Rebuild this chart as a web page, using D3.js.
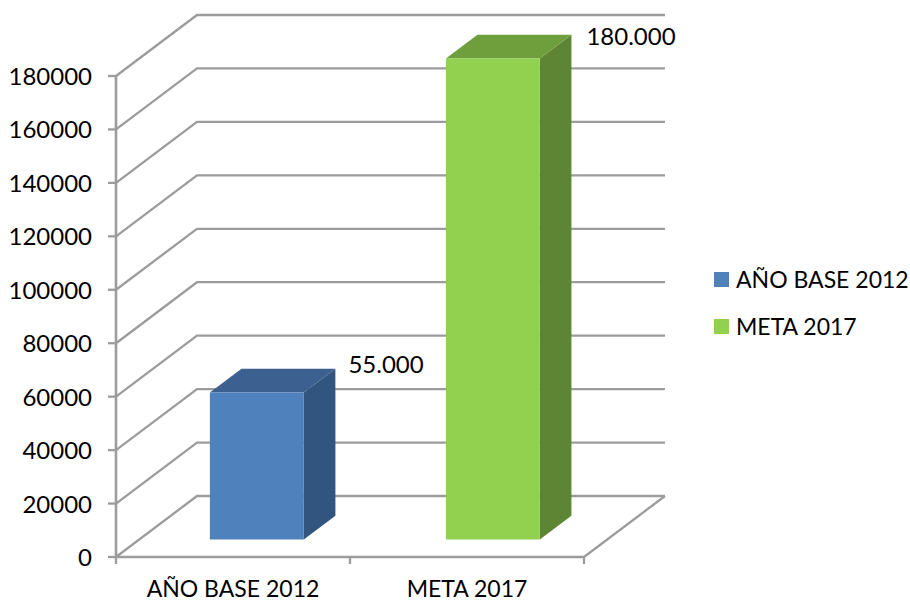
<!DOCTYPE html>
<html><head><meta charset="utf-8">
<script src="https://cdn.jsdelivr.net/npm/d3@7"></script>
<style>html,body{margin:0;background:#fff}text{font-family:Lato,"Open Sans",sans-serif;fill:#000;font-size:23px}.n{font-size:24px}</style>
</head><body><svg id="c" width="910" height="601"></svg>
<script>
const categories=["AÑO BASE 2012","META 2017"];
const values=[55000,180000];
const valueLabels=["55.000","180.000"];
const yTicks=[0,20000,40000,60000,80000,100000,120000,140000,160000,180000];
const frontColors=["#4f81bd","#92d050"];
const topColors=["#3c6090","#6f9f3c"];
const sideColors=["#31557f","#5e8534"];
const svg=d3.select("#c");
const y=d3.scaleLinear().domain([0,180000]).range([557,76]);
const x=d3.scaleBand().domain(categories).range([116,584]);
const bar=d3.scaleBand().domain(categories).range([116,584]).paddingInner(0.602).paddingOuter(0.2925).align(0.68);
const depth=d3.scaleLinear().domain([0,1]).range([0,81]);
const rise=d3.scaleLinear().domain([0,1]).range([0,61]);
const grid="#9c9c9c";
const line=(a,b,c,d,w=2.3)=>svg.append("line").attr("x1",a).attr("y1",b).attr("x2",c).attr("y2",d).attr("stroke",grid).attr("stroke-width",w);
yTicks.forEach(t=>{
  const p=y(t);
  svg.append("polyline").attr("fill","none").attr("stroke",grid).attr("stroke-width",2.3)
    .attr("points",[[116,p],[116+depth(1),p-rise(1)],[584+depth(1),p-rise(1)]].join(" "));
  line(108,p,116,p);
  svg.append("text").attr("class","n").attr("x",92).attr("y",p+9).attr("text-anchor","end").text(t);
});
line(116,y(0),116,y(180000),2.6);
line(116,y(0),584,y(0),2.6);
line(584,y(0),584+depth(1),y(0)-rise(1));
[116,350,584].forEach(v=>line(v,y(0),v,564));
const labelLift=[6,0];
const labelBack=[2,0];
categories.forEach((c,i)=>{
  svg.append("text").attr("x",x(c)+x.bandwidth()/2).attr("y",597).attr("text-anchor","middle").text(c);
  const l=bar(c),r=l+bar.bandwidth(),b=y(0)-rise(0.287),t=b-(y(0)-y(values[i]));
  const dx=depth(0.39),dy=rise(0.39);
  svg.append("polygon").attr("fill",sideColors[i]).attr("points",[[r,b],[r+dx,b-dy],[r+dx,t-dy],[r,t]].join(" "));
  svg.append("polygon").attr("fill",topColors[i]).attr("points",[[l,t],[l+dx,t-dy],[r+dx,t-dy],[r,t]].join(" "));
  svg.append("rect").attr("fill",frontColors[i]).attr("x",l).attr("y",t).attr("width",r-l).attr("height",b-t);
  svg.append("text").attr("class","n").attr("x",r+dx+15-labelBack[i]).attr("y",t-dy+10-labelLift[i]).text(valueLabels[i]);
  const ly=280+i*47;
  svg.append("rect").attr("fill",frontColors[i]).attr("x",714).attr("y",ly-8).attr("width",15).attr("height",15);
  svg.append("text").attr("x",736).attr("y",ly+8).text(c);
});
</script></body></html>
